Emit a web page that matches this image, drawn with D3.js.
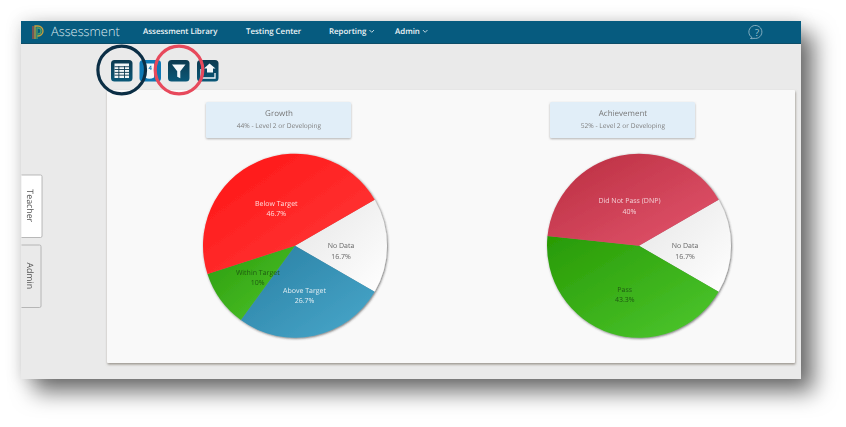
<!DOCTYPE html>
<html>
<head>
<meta charset="utf-8">
<script src="https://d3js.org/d3.v7.min.js"></script>
<style>
    html, body { margin: 0; padding: 0; background: #fff; overflow: hidden; }
    svg { display: block; font-family: "Open Sans", sans-serif; text-rendering: geometricPrecision; filter: blur(0.3px); }
</style>
</head>
<body>
<div id="chart"></div>
<script>
const navLabels = ["Assessment Library", "Testing Center", "Reporting", "Admin"];
const navHasCaret = [false, false, true, true];
const tabLabels = ["Teacher", "Admin"];

const chartTitles = ["Growth", "Achievement"];
const chartSubtitles = ["44% - Level 2 or Developing", "52% - Level 2 or Developing"];

const growthCategories = ["No Data", "Above Target", "Within Target", "Below Target"];
const growthValues = [16.7, 26.7, 10, 46.7];
const achievementCategories = ["No Data", "Pass", "Did Not Pass (DNP)"];
const achievementValues = [16.7, 43.3, 40];

// [dark end, light end, label colour]
const sliceStyle = {
    "No Data": ["#e6e6e6", "#ffffff", "#666666"],
    "Above Target": ["#287fa3", "#4aa8cb", "#e3eef3"],
    "Within Target": ["#2c9c0c", "#4ec42c", "#1f5a12"],
    "Below Target": ["#ff1414", "#ff3c3c", "#ffdcdc"],
    "Did Not Pass (DNP)": ["#b92d40", "#e4566e", "#f3d0d6"],
    "Pass": ["#289a04", "#4ec830", "#1f5a12"],
};

const width = 846, height = 427;
const svg = d3.select("#chart").append("svg").attr("width", width).attr("height", height);
const defs = svg.append("defs");

function shadowFilter(id, dx, dy, blur, color, opacity) {
    const f = defs.append("filter").attr("id", id)
        .attr("x", "-20%").attr("y", "-20%").attr("width", "140%").attr("height", "140%");
    f.append("feDropShadow")
        .attr("dx", dx).attr("dy", dy).attr("stdDeviation", blur)
        .attr("flood-color", color).attr("flood-opacity", opacity);
}
shadowFilter("windowGlow", 0, 0, 8, "#000", 0.14);
shadowFilter("windowShadow", 13, 13, 11, "#000", 0.55);
shadowFilter("panelShadow", 0.5, 1.5, 1, "#857f75", 0.8);
shadowFilter("cardShadow", 0, 1, 1, "#777", 0.55);
shadowFilter("pieShadow", 0.8, 0.8, 0.8, "#333", 0.7);

/* ============================================================
   WINDOW
============================================================ */

const win = { x: 21, y: 21, w: 780, h: 358 };

svg.append("rect").attr("x", win.x).attr("y", win.y).attr("width", win.w).attr("height", win.h)
    .attr("fill", "#eaeaea").attr("filter", "url(#windowGlow)");
svg.append("rect").attr("x", win.x).attr("y", win.y).attr("width", win.w).attr("height", win.h)
    .attr("fill", "#eaeaea").attr("filter", "url(#windowShadow)");

svg.append("rect").attr("x", win.x).attr("y", win.y).attr("width", win.w).attr("height", 22).attr("fill", "#065b7f");
svg.append("rect").attr("x", win.x).attr("y", 43).attr("width", win.w).attr("height", 1).attr("fill", "#0d4d68");

// logo
const logo = svg.append("g").attr("fill", "none").attr("stroke-width", 1.3);
logo.append("path").attr("d", "M33 39V26").attr("stroke", "#b5533f");
logo.append("path").attr("d", "M35 39V26h3a5 5 0 0 1 0 10h-1").attr("stroke", "#c9a23c");
logo.append("path").attr("d", "M37 39V28h1a3 3 0 0 1 0 6").attr("stroke", "#4fa06a");

svg.append("text").attr("x", 51).attr("y", 36).attr("font-size", 12.8).attr("font-weight", 300)
    .attr("fill", "#dbe8ee").text("Assessment");

const navX = [143, 246, 329, 395];
navLabels.forEach((label, i) => {
    const t = svg.append("text").attr("x", navX[i]).attr("y", 34).attr("font-size", 7.9)
        .attr("font-weight", 600).attr("fill", "#eef5f8").text(label);
    if (navHasCaret[i]) {
        const end = navX[i] + t.node().getComputedTextLength() + 3;
        svg.append("path").attr("d", `M${end} 30l2.3 2.3l2.3 -2.3`)
            .attr("fill", "none").attr("stroke", "#eef5f8").attr("stroke-width", 0.8);
    }
});

// help bubble
const help = svg.append("g").attr("fill", "none").attr("stroke", "#9fc0cf").attr("stroke-width", 0.8);
help.append("path").attr("d", "M752 37.5a6.5 6.5 0 1 1 2 0.8q-2 0.6 -3.5 0.2q1.3 -0.4 1.5 -1z");
svg.append("text").attr("x", 757).attr("y", 35.5).attr("text-anchor", "middle").attr("font-size", 9.5)
    .attr("fill", "#a9c8d5").text("?");

/* ============================================================
   SIDE TABS
============================================================ */

const tabY = [175, 245];
const tabW = [21, 20];
const tabFill = ["#ffffff", "#eaeaea"];
tabLabels.forEach((label, i) => {
    const w = tabW[i], y = tabY[i], h = 62.5;
    svg.append("path")
        .attr("d", `M21.5 ${y}h${w - 2}a1.5 1.5 0 0 1 1.5 1.5v${h - 3}a1.5 1.5 0 0 1 -1.5 1.5h-${w - 2}`)
        .attr("fill", tabFill[i]).attr("stroke", "#a8a8a8").attr("stroke-width", 0.8);
    svg.append("text")
        .attr("transform", `translate(27,${y + h / 2 - 0.5}) rotate(90)`)
        .attr("text-anchor", "middle").attr("font-size", 8.8).attr("fill", "#555").text(label);
});

/* ============================================================
   PANEL + TOOLBAR
============================================================ */

svg.append("rect").attr("x", 107).attr("y", 90).attr("width", 688).attr("height", 273).attr("rx", 1)
    .attr("fill", "#f9f9f9").attr("filter", "url(#panelShadow)");

const iconGrad = defs.append("linearGradient").attr("id", "iconGrad")
    .attr("x1", 0).attr("y1", 0).attr("x2", 0).attr("y2", 1);
iconGrad.append("stop").attr("offset", 0).attr("stop-color", "#0d3a50");
iconGrad.append("stop").attr("offset", 1).attr("stop-color", "#0a5878");

const iconX = [111, 139.5, 168, 197];
const iconFill = ["url(#iconGrad)", "#0f78b4", "url(#iconGrad)", "url(#iconGrad)"];
iconX.forEach((x, i) => {
    svg.append("rect").attr("x", x).attr("y", 60).attr("width", 21.5).attr("height", 21.5).attr("rx", 3.5)
        .attr("fill", iconFill[i]);
});

// table icon
svg.append("rect").attr("x", 114.5).attr("y", 63.5).attr("width", 14.5).attr("height", 14.5).attr("fill", "#f3f6f7");
[66.3, 69.1, 71.9, 74.7].forEach(y => {
    svg.append("rect").attr("x", 114.5).attr("y", y).attr("width", 14.5).attr("height", 0.9).attr("fill", "#0d3a50");
});
svg.append("rect").attr("x", 118.4).attr("y", 66).attr("width", 0.9).attr("height", 12).attr("fill", "#0d3a50");
svg.append("rect").attr("x", 124).attr("y", 66).attr("width", 0.9).attr("height", 12).attr("fill", "#0d3a50");
// second icon, mostly behind the rings
svg.append("path").attr("d", "M145 63.5h9v14q-4.5 2.5 -9 0z").attr("fill", "#f4f8fa");
svg.append("text").attr("x", 148.5).attr("y", 69.5).attr("font-size", 6).attr("font-weight", 700).attr("fill", "#0f78b4").text("4");
// filter icon
svg.append("path").attr("d", "M172 64.5h13.5l-5.2 6.8v7l-3.1 -1.6v-5.4z").attr("fill", "#f4f8fa");
// export icon
svg.append("path").attr("d", "M201 69v9h14v-5").attr("fill", "none").attr("stroke", "#f4f8fa").attr("stroke-width", 1.3);
svg.append("path").attr("d", "M209.5 63.5l6 5l-2.5 0v4h-6v-4l-3 0z").attr("fill", "#f4f8fa");

// highlight rings
svg.append("circle").attr("cx", 121.7).attr("cy", 70).attr("r", 23.8)
    .attr("fill", "none").attr("stroke", "#0b2e45").attr("stroke-width", 3.2);
svg.append("circle").attr("cx", 179).attr("cy", 70).attr("r", 23.8)
    .attr("fill", "none").attr("stroke", "#e7495c").attr("stroke-width", 3.2);

/* ============================================================
   PIES
============================================================ */

const pies = [
    { title: chartTitles[0], sub: chartSubtitles[0], cats: growthCategories, vals: growthValues, cardX: 206, cx: 295 },
    { title: chartTitles[1], sub: chartSubtitles[1], cats: achievementCategories, vals: achievementValues, cardX: 550, cx: 639 },
];

const cy = 245.7, radius = 92;
const startAngle = Math.PI / 3;

const pieGen = d3.pie().sort(null).value(d => d.value)
    .startAngle(startAngle).endAngle(startAngle + 2 * Math.PI);
const arcGen = d3.arc().innerRadius(0).outerRadius(radius);

pies.forEach((p, pi) => {
    svg.append("rect").attr("x", p.cardX).attr("y", 102).attr("width", 145).attr("height", 36).attr("rx", 1.5)
        .attr("fill", "#e1eef8").attr("filter", "url(#cardShadow)");
    svg.append("text").attr("x", p.cardX + 73).attr("y", 116).attr("text-anchor", "middle")
        .attr("font-size", 8).attr("fill", "#777").text(p.title);
    svg.append("text").attr("x", p.cardX + 73).attr("y", 128).attr("text-anchor", "middle")
        .attr("font-size", 6.6).attr("fill", "#808080").text(p.sub);

    const rows = p.cats.map((c, i) => ({ cat: c, value: p.vals[i] }));
    const g = svg.append("g").attr("transform", `translate(${p.cx},${cy})`);
    const slices = g.append("g").attr("filter", "url(#pieShadow)");

    pieGen(rows).forEach((d, i) => {
        const id = `slice-${pi}-${i}`;
        const style = sliceStyle[d.data.cat];
        const grad = defs.append("linearGradient").attr("id", id)
            .attr("x1", 0).attr("y1", 0).attr("x2", 1).attr("y2", 1);
        grad.append("stop").attr("offset", 0).attr("stop-color", style[0]);
        grad.append("stop").attr("offset", 1).attr("stop-color", style[1]);
        slices.append("path").attr("d", arcGen(d)).attr("fill", `url(#${id})`);
    });

    pieGen(rows).forEach(d => {
        const [x, y] = arcGen.centroid(d);
        const color = sliceStyle[d.data.cat][2];
        g.append("text").attr("x", x).attr("y", y + 2.5).attr("text-anchor", "middle")
            .attr("font-size", 7).attr("fill", color).text(d.data.cat);
        g.append("text").attr("x", x).attr("y", y + 12.8).attr("text-anchor", "middle")
            .attr("font-size", 7).attr("fill", color).text(`${d.data.value}%`);
    });
});
</script>
</body>
</html>
